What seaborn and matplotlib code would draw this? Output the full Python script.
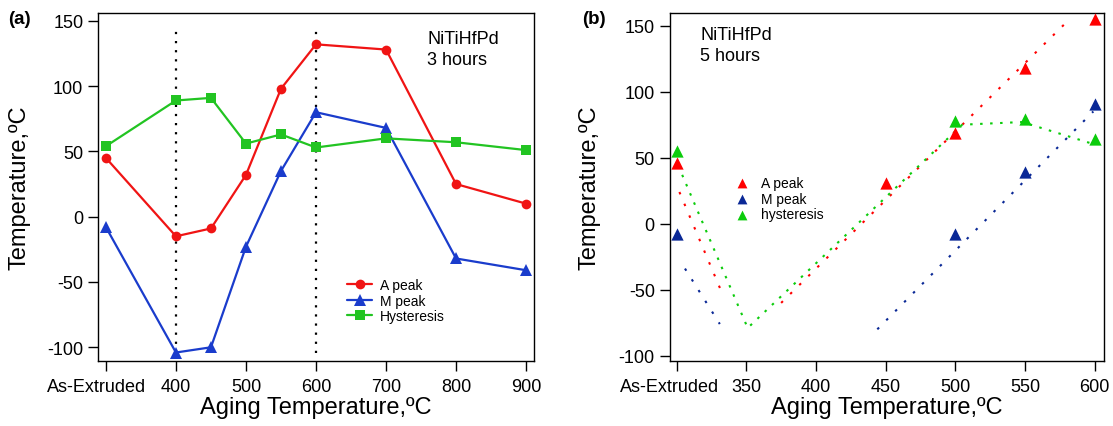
import numpy as np
import pandas as pd
import matplotlib
matplotlib.use("Agg")
import matplotlib.pyplot as plt
import matplotlib.transforms as mtransforms
import seaborn as sns

# ---------------- data ----------------
# panel (a): 3 hours aging
a_temp = [300, 400, 450, 500, 550, 600, 700, 800, 900]
a_apeak = [45, -15, -9, 32, 98, 132, 128, 25, 10]
a_mpeak = [-8, -104, -100, -23, 35, 80, 68, -32, -41]
a_hyst = [54, 89, 91, 56, 63, 53, 60, 57, 51]
a_xticks = [300, 400, 500, 600, 700, 800, 900]
a_xticklabels = ["As-Extruded", "400", "500", "600", "700", "800", "900"]
a_vline_x = [400, 600]
a_vline_top = [142, 147]
a_vline_bottom = [-104, -104]

# panel (b): 5 hours aging
b_apeak_t = [300, 450, 500, 550, 600]
b_apeak = [46, 31, 69, 118, 155]
b_mpeak_t = [300, 500, 550, 600]
b_mpeak = [-8, -8, 39, 91]
b_hyst_t = [300, 500, 550, 600]
b_hyst = [55, 78, 79, 64]
# dotted guide lines (b)
b_afit1_x = [302, 332]
b_afit1_y = [24, -51]
b_afit2_x = [375, 583]
b_afit2_y = [-60, 156]
b_mfit1_x = [306, 331]
b_mfit1_y = [-34, -76]
b_mfit2_x = [444, 599]
b_mfit2_y = [-80, 85]
b_hfit_x = [304, 351, 505, 548, 597]
b_hfit_y = [37, -79, 75, 77, 61]
b_xticks = [300, 350, 400, 450, 500, 550, 600]
b_xticklabels = ["As-Extruded", "350", "400", "450", "500", "550", "600"]

yticks = [-100, -50, 0, 50, 100, 150]

# ---------------- style ----------------
sns.set_theme(style="ticks")
plt.rcParams["font.family"] = ["Liberation Sans", "DejaVu Sans"]
plt.rcParams["axes.unicode_minus"] = False
plt.rcParams["text.color"] = "black"
plt.rcParams["axes.labelcolor"] = "black"
plt.rcParams["xtick.color"] = "black"
plt.rcParams["ytick.color"] = "black"

W, H = 1113, 427
fig = plt.figure(figsize=(W / 100, H / 100), dpi=100)
fig.patch.set_facecolor("white")


def px_ax(left, right, top, bottom):
    return [left / W, 1 - bottom / H, (right - left) / W, (bottom - top) / H]


ax1 = fig.add_axes(px_ax(98, 534, 14, 362))
ax2 = fig.add_axes(px_ax(669.5, 1103.5, 14, 362))

RED_A, BLUE_A, GREEN_A = "#f01414", "#1a3ccc", "#22c422"
RED_B, BLUE_B, GREEN_B = "#ff0000", "#0a2896", "#0ccc0c"

# ---- panel (a) ----
for xv, yt, yb in zip(a_vline_x, a_vline_top, a_vline_bottom):
    sns.lineplot(x=[xv, xv], y=[yb, yt], ax=ax1, color="black", lw=1.6,
                 linestyle=(0, (1, 3.1)), estimator=None, sort=False, legend=False)

sns.lineplot(x=a_temp, y=a_apeak, ax=ax1, color=RED_A, lw=1.6, marker="o",
             markersize=7, markeredgewidth=0, label="A peak", estimator=None, sort=False)
sns.lineplot(x=a_temp, y=a_mpeak, ax=ax1, color=BLUE_A, lw=1.6, marker="^",
             markersize=8.6, markeredgewidth=0, label="M peak", estimator=None, sort=False)
sns.lineplot(x=a_temp, y=a_hyst, ax=ax1, color=GREEN_A, lw=1.6, marker="s",
             markersize=7.5, markeredgewidth=0, label="Hysteresis", estimator=None, sort=False)

ax1.set_xlim(288.7, 911.3)
ax1.set_ylim(-110.5, 156)
ax1.set_xticks(a_xticks)
ax1.set_xticklabels(a_xticklabels)

# ---- panel (b) ----
dot_rb = (0, (1.2, 4.9))
dot_g = (0, (1.2, 3.6))
for xs, ys, c, ls in [(b_afit1_x, b_afit1_y, RED_B, dot_rb),
                      (b_afit2_x, b_afit2_y, RED_B, dot_rb),
                      (b_mfit1_x, b_mfit1_y, BLUE_B, dot_rb),
                      (b_mfit2_x, b_mfit2_y, BLUE_B, dot_rb),
                      (b_hfit_x, b_hfit_y, GREEN_B, dot_g)]:
    sns.lineplot(x=xs, y=ys, ax=ax2, color=c, lw=1.5, linestyle=ls,
                 estimator=None, sort=False, legend=False)

sns.scatterplot(x=b_apeak_t, y=b_apeak, ax=ax2, color=RED_B, marker="^", s=78,
                linewidth=0, label="A peak", zorder=5)
sns.scatterplot(x=b_mpeak_t, y=b_mpeak, ax=ax2, color=BLUE_B, marker="^", s=78,
                linewidth=0, label="M peak", zorder=5)
sns.scatterplot(x=b_hyst_t, y=b_hyst, ax=ax2, color=GREEN_B, marker="^", s=78,
                linewidth=0, label="hysteresis", zorder=5)

ax2.set_xlim(294.9, 606.3)
ax2.set_ylim(-104, 159.6)
ax2.set_xticks(b_xticks)
ax2.set_xticklabels(b_xticklabels)

# ---- common axes styling ----
for ax, shift in [(ax1, -9), (ax2, -7)]:
    ax.set_yticks(yticks)
    ax.tick_params(axis="both", direction="out", length=7, width=1.0,
                   labelsize=13, colors="black")
    ax.tick_params(axis="x", pad=5.5)
    ax.tick_params(axis="y", pad=3.6)
    for sp in ax.spines.values():
        sp.set_visible(True)
        sp.set_linewidth(1.0)
        sp.set_color("black")
    ax.set_facecolor("white")
    ax.grid(False)
    lbl = ax.get_xticklabels()[0]
    lbl.set_transform(lbl.get_transform() +
                      mtransforms.ScaledTranslation(shift / 100, 0, fig.dpi_scale_trans))
    ax.set_xlabel("Aging Temperature,ºC", fontsize=17, color="black")
    ax.set_ylabel("Temperature,ºC", fontsize=17, color="black")
    ax.xaxis.label.set_va("top")
    ax.xaxis.set_label_coords(0.5, (362 - 397) / 348)

ax1.yaxis.set_label_coords((31 - 98) / 436, 0.5)
ax2.yaxis.set_label_coords((600.5 - 669.5) / 434, 0.5)

# legends
ax1.legend(loc="upper left", bbox_to_anchor=(347 / W, 1 - 279 / H),
           bbox_transform=fig.transFigure, frameon=False, borderpad=0,
           borderaxespad=0, handlelength=1.8, handletextpad=0.55,
           labelspacing=0.12, fontsize=10, labelcolor="black")
ax2.legend(loc="upper left", bbox_to_anchor=(735 / W, 1 - 177 / H),
           bbox_transform=fig.transFigure, frameon=False, borderpad=0,
           borderaxespad=0, handlelength=1.0, handletextpad=0.85,
           labelspacing=0.12, fontsize=10, markerscale=0.8, labelcolor="black")

# annotations
fig.text(427 / W, 1 - 44 / H, "NiTiHfPd", fontsize=13, va="baseline", ha="left", color="black")
fig.text(427 / W, 1 - 65 / H, "3 hours", fontsize=13, va="baseline", ha="left", color="black")
fig.text(700 / W, 1 - 40 / H, "NiTiHfPd", fontsize=13, va="baseline", ha="left", color="black")
fig.text(700 / W, 1 - 61 / H, "5 hours", fontsize=13, va="baseline", ha="left", color="black")
fig.text(8 / W, 1 - 20 / H, "(a)", fontsize=13.5, fontweight="bold", va="center", ha="left", color="black")
fig.text(582 / W, 1 - 20 / H, "(b)", fontsize=13.5, fontweight="bold", va="center", ha="left", color="black")

fig.savefig("out.png", dpi=100, facecolor="white")
